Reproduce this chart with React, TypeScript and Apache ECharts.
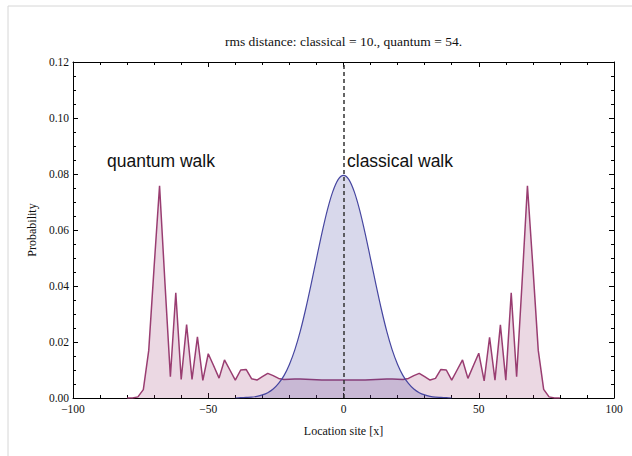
import React, { useEffect, useRef } from "react";
import * as echarts from "echarts";

const quantumX = [
  -80, -78, -76, -74, -72, -70, -68, -66, -64, -62, -60, -58, -56, -54, -52, -50, -48, -46, -44, -42, -40,
  -38, -36, -34, -32, -30, -28, -26, -24, -22, -20, -18, -16, -14, -12, -10, -8, -6, -4, -2, 0,
  2, 4, 6, 8, 10, 12, 14, 16, 18, 20, 22, 24, 26, 28, 30, 32, 34, 36, 38, 40,
  42, 44, 46, 48, 50, 52, 54, 56, 58, 60, 62, 64, 66, 68, 70, 72, 74, 76, 78, 80,
];
const quantumP = [
  0, 0, 0.0004, 0.003, 0.017, 0.047, 0.0758, 0.041, 0.0076, 0.0376, 0.0066, 0.0262, 0.0066, 0.0218, 0.0063, 0.0158, 0.0115, 0.0071, 0.0136, 0.01, 0.0064,
  0.01, 0.0102, 0.0069, 0.0064, 0.0076, 0.0088, 0.008, 0.007, 0.0066, 0.0067, 0.0068, 0.0068, 0.0067, 0.0066, 0.0065, 0.0064, 0.0064, 0.0064, 0.0064, 0.0064,
  0.0064, 0.0064, 0.0064, 0.0064, 0.0065, 0.0066, 0.0067, 0.0068, 0.0068, 0.0067, 0.0066, 0.007, 0.008, 0.0088, 0.0076, 0.0064, 0.007, 0.0102, 0.01, 0.0064,
  0.01, 0.0136, 0.007, 0.0115, 0.016, 0.0061, 0.0217, 0.0064, 0.0261, 0.0064, 0.0376, 0.0076, 0.041, 0.0758, 0.047, 0.017, 0.0031, 0.0004, 0, 0,
];

const classicalX = [
  -40, -38, -36, -34, -32, -30, -28, -26, -24, -22, -20, -18, -16, -14, -12, -10, -8, -6, -4, -2, 0,
  2, 4, 6, 8, 10, 12, 14, 16, 18, 20, 22, 24, 26, 28, 30, 32, 34, 36, 38, 40,
];
const classicalP = [
  0, 0.0001, 0.0002, 0.0003, 0.0006, 0.0011, 0.0019, 0.0032, 0.0052, 0.008, 0.012, 0.0172, 0.0238, 0.0317, 0.0405, 0.0497, 0.0588, 0.067, 0.0736, 0.078, 0.0795,
  0.078, 0.0736, 0.067, 0.0588, 0.0497, 0.0405, 0.0317, 0.0238, 0.0172, 0.012, 0.008, 0.0052, 0.0032, 0.0019, 0.0011, 0.0006, 0.0003, 0.0002, 0.0001, 0,
];

const xTicks = [-100, 100, 50];
const yTicks = [0, 0.12, 0.02];

const titleText = "rms distance: classical = 10., quantum = 54.";
const xName = "Location site [x]";
const yName = "Probability";
const quantumLabel = "quantum walk";
const classicalLabel = "classical walk";

const SERIF = "'Liberation Serif', 'DejaVu Serif', serif";
const SANS = "'Liberation Sans', Arial, sans-serif";

export default function App() {
  const ref = useRef<HTMLDivElement>(null);
  useEffect(() => {
    if (!ref.current) return;
    const chart = echarts.init(ref.current, undefined, { renderer: "svg" });
    const axisBase = (show: boolean) => ({
      axisLine: { show: true, onZero: false, lineStyle: { color: "#000", width: 1 } },
      axisTick: { show: true, inside: true, length: 5, lineStyle: { color: "#000", width: 1 } },
      minorTick: { show: true, length: 3, lineStyle: { color: "#000", width: 1 } },
      splitLine: { show: false },
      minorSplitLine: { show: false },
      axisLabel: { show },
    });
    chart.setOption({
      animation: false,
      backgroundColor: "#fff",
      grid: { left: 73, right: 18, top: 62, bottom: 58, containLabel: false },
      graphic: [
        {
          type: "rect",
          shape: { x: 8, y: 6, width: 700, height: 500 },
          style: { fill: "none", stroke: "#d6d6d6", lineWidth: 1 },
          silent: true,
        },
        {
          type: "text",
          x: 343.5,
          y: 41,
          style: { text: titleText, font: `13.5px ${SERIF}`, fill: "#111", align: "center", verticalAlign: "middle" },
        },
        {
          type: "text",
          x: 107,
          y: 161,
          style: { text: quantumLabel, font: `17.5px ${SANS}`, fill: "#111", align: "left", verticalAlign: "middle" },
        },
        {
          type: "text",
          x: 347,
          y: 161,
          style: { text: classicalLabel, font: `17.5px ${SANS}`, fill: "#111", align: "left", verticalAlign: "middle" },
        },
      ],
      xAxis: [
        {
          type: "value",
          min: xTicks[0],
          max: xTicks[1],
          interval: xTicks[2],
          position: "bottom",
          ...axisBase(true),
          minorTick: { show: true, splitNumber: 5, length: 3, lineStyle: { color: "#000", width: 1 } },
          axisLabel: {
            show: true,
            margin: 5,
            fontFamily: SERIF,
            fontSize: 11.5,
            color: "#111",
            formatter: (v: number) => (v < 0 ? "\u2212" + Math.abs(v) : String(v)),
          },
          name: xName,
          nameLocation: "middle",
          nameGap: 27,
          nameTextStyle: { fontFamily: SERIF, fontSize: 12, color: "#111" },
        },
        {
          type: "value",
          min: xTicks[0],
          max: xTicks[1],
          interval: xTicks[2],
          position: "top",
          ...axisBase(false),
          minorTick: { show: true, splitNumber: 5, length: 3, lineStyle: { color: "#000", width: 1 } },
        },
      ],
      yAxis: [
        {
          type: "value",
          min: yTicks[0],
          max: yTicks[1],
          interval: yTicks[2],
          position: "left",
          ...axisBase(true),
          minorTick: { show: true, splitNumber: 4, length: 3, lineStyle: { color: "#000", width: 1 } },
          axisLabel: {
            show: true,
            margin: 4,
            fontFamily: SERIF,
            fontSize: 11.5,
            color: "#111",
            formatter: (v: number) => v.toFixed(2),
          },
          name: yName,
          nameLocation: "middle",
          nameGap: 32,
          nameTextStyle: { fontFamily: SERIF, fontSize: 12, color: "#111" },
        },
        {
          type: "value",
          min: yTicks[0],
          max: yTicks[1],
          interval: yTicks[2],
          position: "right",
          ...axisBase(false),
          minorTick: { show: true, splitNumber: 4, length: 3, lineStyle: { color: "#000", width: 1 } },
        },
      ],
      series: [
        {
          type: "line",
          name: "quantum",
          data: quantumX.map((x, i) => [x, quantumP[i]]),
          showSymbol: false,
          symbol: "none",
          lineStyle: { color: "#993d71", width: 1.5 },
          itemStyle: { color: "#993d71" },
          areaStyle: { color: "#993d71", opacity: 0.2 },
          z: 2,
        },
        {
          type: "line",
          name: "classical",
          data: classicalX.map((x, i) => [x, classicalP[i]]),
          showSymbol: false,
          symbol: "none",
          smooth: 0.3,
          lineStyle: { color: "#4646a0", width: 1.2 },
          itemStyle: { color: "#4646a0" },
          areaStyle: { color: "#3d3d99", opacity: 0.2 },
          z: 3,
          markLine: {
            silent: true,
            symbol: "none",
            label: { show: false },
            lineStyle: { type: [4, 3], color: "#333", width: 1.5 },
            data: [{ xAxis: 0 }],
          },
        },
      ],
    });
    return () => chart.dispose();
  }, []);
  return (
    <div
      ref={ref}
      style={{ position: "fixed", left: 0, top: 0, width: 632, height: 456 }}
    />
  );
}
